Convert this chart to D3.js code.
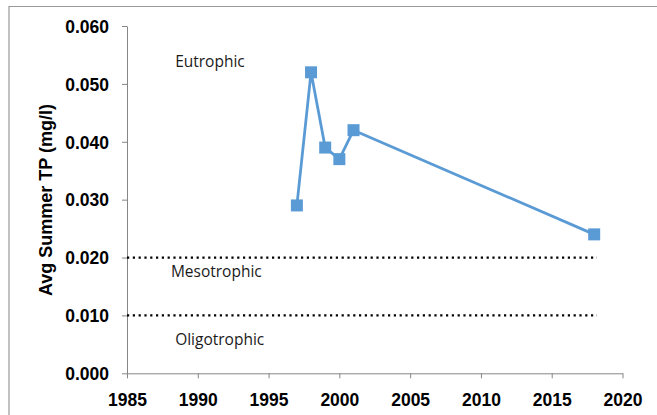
<!DOCTYPE html>
<html><head><meta charset="utf-8">
<script src="https://cdn.jsdelivr.net/npm/d3@7"></script>
<style>body{margin:0;background:#fff}svg{display:block}</style>
</head><body>
<svg id="c" width="657" height="415"></svg>
<script>
const years = [1997, 1998, 1999, 2000, 2001, 2018];
const tp = [0.029, 0.052, 0.039, 0.037, 0.042, 0.024];
const thresholdValues = [0.020, 0.010];
const thresholdYears = [1985, 2018.2];
const zoneNames = ["Eutrophic", "Mesotrophic", "Oligotrophic"];
const zoneValues = [0.0539, 0.0176, 0.0058];
const zoneYears = [1988.4, 1988.1, 1988.4];
const xTicks = [1985, 1990, 1995, 2000, 2005, 2010, 2015, 2020];
const yTicks = [0, 0.01, 0.02, 0.03, 0.04, 0.05, 0.06];
const yTitle = "Avg Summer TP (mg/l)";

const svg = d3.select("#c");
const x = d3.scaleLinear().domain([1985, 2020]).range([127, 622.5]);
const y = d3.scaleLinear().domain([0, 0.06]).range([373.3, 26]);

// outer frame
svg.append("path").attr("d", "M9,415 V6.5 H657").attr("fill", "none")
  .attr("stroke", "#999").attr("stroke-width", 1.2);

const axisColor = "#868686";
const gx = svg.append("g").attr("transform", `translate(0,${y(0)})`)
  .call(d3.axisBottom(x).tickValues(xTicks).tickFormat(d3.format("d")).tickSizeInner(5).tickSizeOuter(0).tickPadding(15));
const gy = svg.append("g").attr("transform", `translate(${x(1985)},0)`)
  .call(d3.axisLeft(y).tickValues(yTicks).tickFormat(d3.format(".3f")).tickSizeInner(5).tickSizeOuter(0).tickPadding(13));
[gx, gy].forEach(g => {
  g.select(".domain").attr("stroke", axisColor).attr("stroke-width", 1);
  g.selectAll(".tick line").attr("stroke", axisColor).attr("stroke-width", 1);
  g.selectAll(".tick text").attr("fill", "#000")
    .style("font-family", "Liberation Sans, Arial, sans-serif")
    .style("font-weight", "bold").style("font-size", "17.5px");
});
gy.selectAll(".tick text").attr("dy", "0.36em");

// threshold dotted lines
thresholdValues.forEach(v => {
  svg.append("line")
    .attr("x1", x(thresholdYears[0])).attr("x2", x(thresholdYears[1]))
    .attr("y1", y(v)).attr("y2", y(v))
    .attr("stroke", "#000").attr("stroke-width", 2.2)
    .attr("stroke-dasharray", "2.2,3.6");
});

// zone labels
zoneNames.forEach((n, i) => {
  svg.append("text").attr("x", x(zoneYears[i])).attr("y", y(zoneValues[i]))
    .attr("dy", "0.36em")
    .style("font-family", "Open Sans, sans-serif").style("font-size", "15.5px")
    .attr("fill", "#1a1a1a").text(n);
});

// series
const color = "#5B9BD5";
const pts = years.map((d, i) => [d, tp[i]]);
svg.append("path").datum(pts)
  .attr("d", d3.line().x(d => x(d[0])).y(d => y(d[1])))
  .attr("fill", "none").attr("stroke", color).attr("stroke-width", 2.8)
  .attr("stroke-linejoin", "round");
const ms = 12;
svg.selectAll("rect.m").data(pts).join("rect").attr("class", "m")
  .attr("x", d => x(d[0]) - ms / 2).attr("y", d => y(d[1]) - ms / 2)
  .attr("width", ms).attr("height", ms).attr("fill", color);

// y title
svg.append("text")
  .attr("transform", `translate(52,200) rotate(-90)`)
  .attr("text-anchor", "middle")
  .style("font-family", "Liberation Sans, Arial, sans-serif")
  .style("font-weight", "bold").style("font-size", "18px")
  .attr("fill", "#000").text(yTitle);
</script>
</body></html>
